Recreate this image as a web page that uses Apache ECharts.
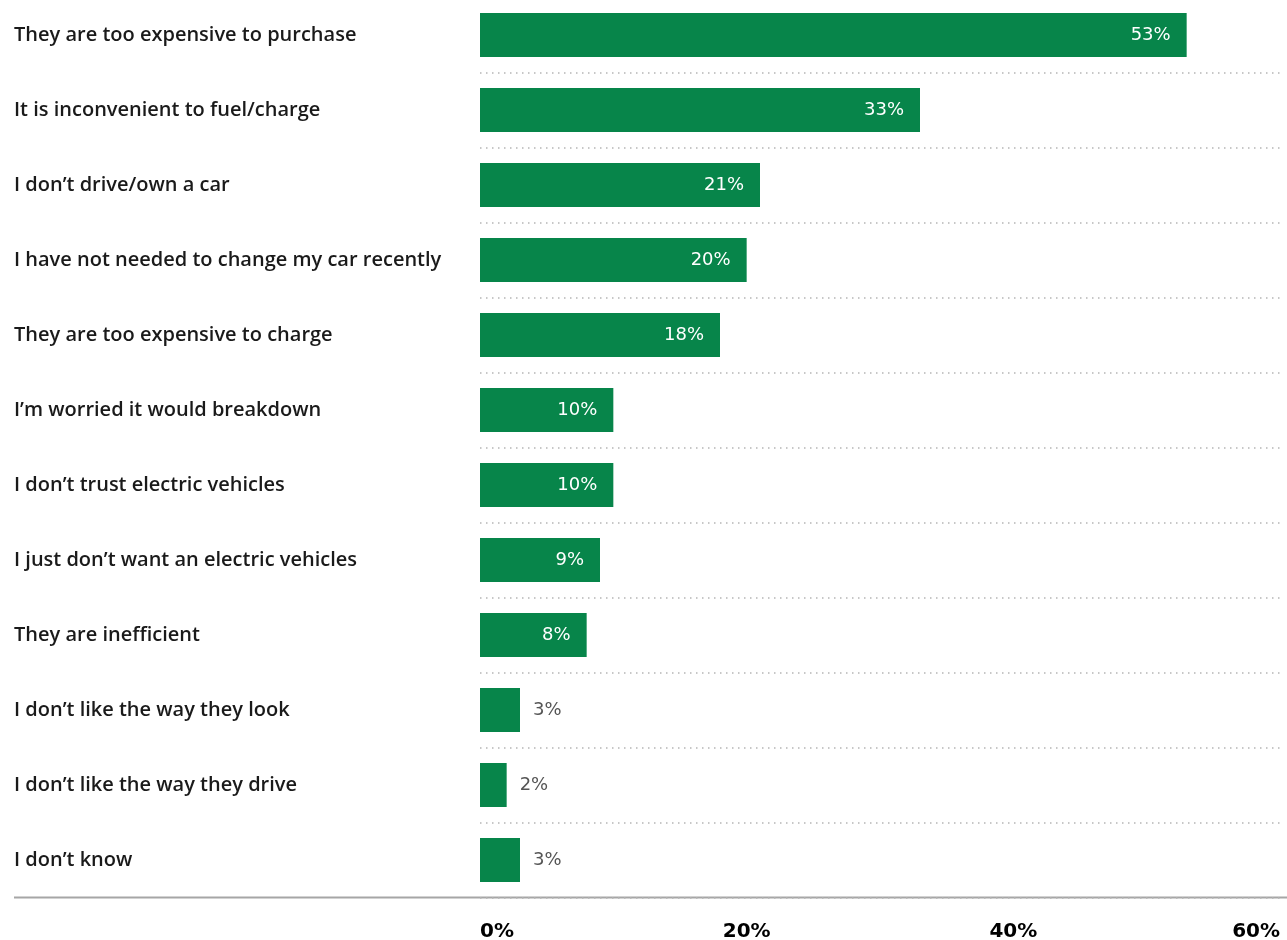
<!DOCTYPE html>
<html lang="en">
<head>
    <meta charset="UTF-8">
    <title>Reasons for not buying an electric vehicle</title>
    <script src="https://cdn.jsdelivr.net/npm/echarts@6/dist/echarts.min.js"></script>
    <style>
        html, body { margin: 0; padding: 0; background: #fff; }
    </style>
</head>
<body>
<div id="main" style="width: 1287px;height:940px;"></div>
<script type="text/javascript">
    var reasons = [
        'They are too expensive to purchase',
        'It is inconvenient to fuel/charge',
        'I don\u2019t drive/own a car',
        'I have not needed to change my car recently',
        'They are too expensive to charge',
        'I\u2019m worried it would breakdown',
        'I don\u2019t trust electric vehicles',
        'I just don\u2019t want an electric vehicles',
        'They are inefficient',
        'I don\u2019t like the way they look',
        'I don\u2019t like the way they drive',
        'I don\u2019t know'
    ];
    var shares = [53, 33, 21, 20, 18, 10, 10, 9, 8, 3, 2, 3];
    var xTicks = [0, 20, 40, 60];

    // small bars get their label outside, in grey
    var barData = [];
    for (var i = 0; i < shares.length; i++) {
        var item = { value: shares[i] };
        if (shares[i] < 5) {
            item.label = { position: 'right', distance: 13, color: '#555555' };
        }
        barData.push(item);
    }

    var chartDom = document.getElementById('main');
    var myChart = echarts.init(chartDom);
    var option;

    option = {
        animation: false,
        grid: {
            left: 480,
            right: 7,
            top: -2.5,
            bottom: 42.5,
            containLabel: false,
            outerBoundsMode: 'none'
        },
        xAxis: {
            type: 'value',
            min: 0,
            max: 60,
            interval: 20,
            axisLine: { show: false },
            axisTick: { show: false },
            splitLine: { show: false },
            axisLabel: {
                margin: 24,
                color: '#000',
                fontFamily: 'DejaVu Sans',
                fontWeight: 'bold',
                fontSize: 20,
                alignMinLabel: 'left',
                alignMaxLabel: 'right',
                formatter: function (v) {
                    return xTicks.indexOf(v) >= 0 ? v + '%' : '';
                }
            }
        },
        yAxis: {
            type: 'category',
            inverse: true,
            data: reasons,
            axisLine: { show: false },
            axisTick: { show: false },
            splitLine: {
                show: true,
                lineStyle: { color: '#b5b5b5', type: [1.5, 4.5], width: 1.5 }
            },
            axisLabel: {
                align: 'left',
                margin: 466,
                color: '#1a1a1a',
                fontFamily: 'Open Sans',
                fontWeight: 600,
                fontSize: 20
            }
        },
        graphic: [
            {
                type: 'line',
                shape: { x1: 14, y1: 897.5, x2: 1287, y2: 897.5 },
                style: { stroke: '#a6a6a6', lineWidth: 2 }
            }
        ],
        series: [
            {
                type: 'bar',
                barWidth: 44,
                itemStyle: { color: '#07854a' },
                label: {
                    show: true,
                    position: 'insideRight',
                    distance: 16,
                    color: '#ffffff',
                    fontFamily: 'DejaVu Sans',
                    fontSize: 18,
                    formatter: '{c}%'
                },
                data: barData
            }
        ]
    };

    option && myChart.setOption(option);
    window.addEventListener("resize", function () {
        myChart.resize();
    });
</script>
</body>
</html>
